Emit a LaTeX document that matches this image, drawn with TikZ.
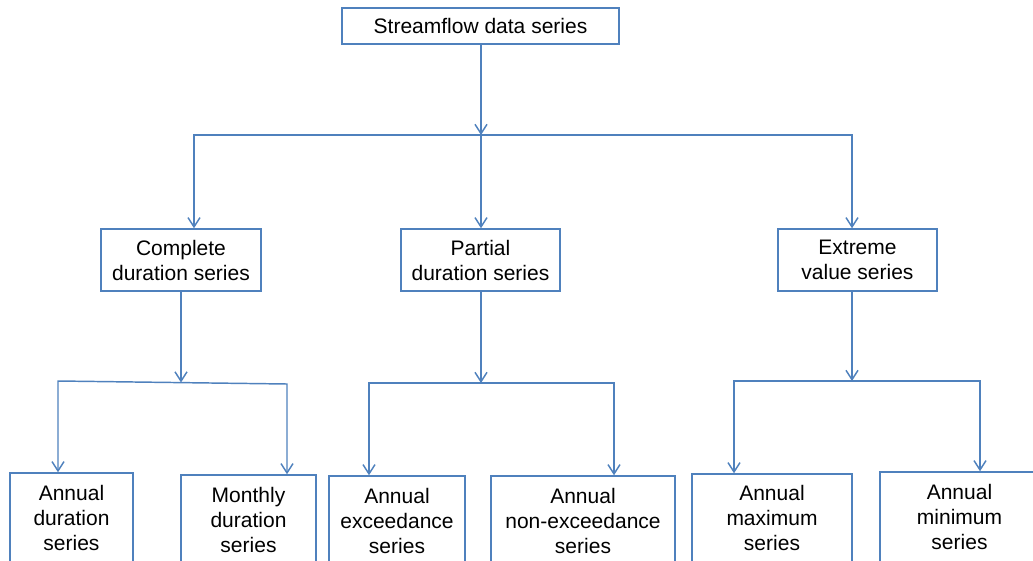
\documentclass[tikz,border=0pt]{standalone}
\usepackage{fontspec}
\setmainfont{Liberation Sans}
\usetikzlibrary{arrows.meta,calc}
\definecolor{azul}{HTML}{4F81BD}

\begin{document}
\begin{tikzpicture}[> = {Straight Barb[length=7pt,width=9pt]}, x=0.75pt, y=-0.75pt]
    % Estilos
    \tikzstyle{caixa}=[rectangle, draw=azul, line width=1.1pt, align=center, inner sep=0pt, font=\fontsize{15.75}{18.75}\selectfont]
    \tikzstyle{liga}=[azul, line width=1.1pt]

    \clip (0,0) rectangle (1033,561);

    % Caixas
    \node[caixa, minimum width=207.75pt, minimum height=27pt] (serie) at (480.5,26) {Streamflow data series};

    \node[caixa, minimum width=120pt, minimum height=46.5pt] (cds) at (181,260) {Complete\\duration series};
    \node[caixa, minimum width=119.25pt, minimum height=46.5pt] (pds) at (480.5,260) {Partial\\duration series};
    \node[caixa, minimum width=119.25pt, minimum height=46.5pt] (evs) at (857.5,260) {Extreme\\value series};

    \node[caixa, minimum width=92.25pt, minimum height=67.5pt] (ads) at (71.5,518) {Annual\\duration\\series};
    \node[caixa, minimum width=101.25pt, minimum height=67.5pt] (mds) at (248.5,520) {Monthly\\duration\\series};
    \node[caixa, minimum width=102pt, minimum height=67.5pt] (aes) at (397,521) {Annual\\exceedance\\series};
    \node[caixa, minimum width=138pt, minimum height=67.5pt] (anes) at (583,521) {Annual\\non-exceedance\\series};
    \node[caixa, minimum width=120pt, minimum height=66pt] (amax) at (772,518) {Annual\\maximum\\series};
    \node[caixa, minimum width=119.25pt, minimum height=67.5pt] (amin) at (959.5,517) {Annual\\minimum\\series};

    % Junções
    \coordinate (j0) at (481,135);
    \coordinate (b0l) at (194,135);
    \coordinate (b0r) at (852,135);

    \coordinate (j1) at (181,382.5);
    \coordinate (l1) at (58,381);
    \coordinate (r1) at (287,384);

    \coordinate (j2) at (481,383);
    \coordinate (l2) at (369,383);
    \coordinate (r2) at (614,383);

    \coordinate (j3) at (852,381);
    \coordinate (l3) at (734,381);
    \coordinate (r3) at (980,381);

    % Ligações
    \draw[->,liga] (serie.south -| j0) -- (j0);
    \draw[<->,liga] (b0l |- cds.north) -- (b0l) -- (b0r) -- (b0r |- evs.north);
    \draw[->,liga] (j0) -- (j0 |- pds.north);

    \draw[->,liga] (cds.south -| j1) -- (j1);
    \draw[<->,liga] (l1 |- ads.north) -- (l1) -- (r1) -- (r1 |- mds.north);

    \draw[->,liga] (pds.south -| j2) -- (j2);
    \draw[<->,liga] (l2 |- aes.north) -- (l2) -- (r2) -- (r2 |- anes.north);

    \draw[->,liga] (evs.south -| j3) -- (j3);
    \draw[<->,liga] (l3 |- amax.north) -- (l3) -- (r3) -- (r3 |- amin.north);
\end{tikzpicture}
\end{document}
